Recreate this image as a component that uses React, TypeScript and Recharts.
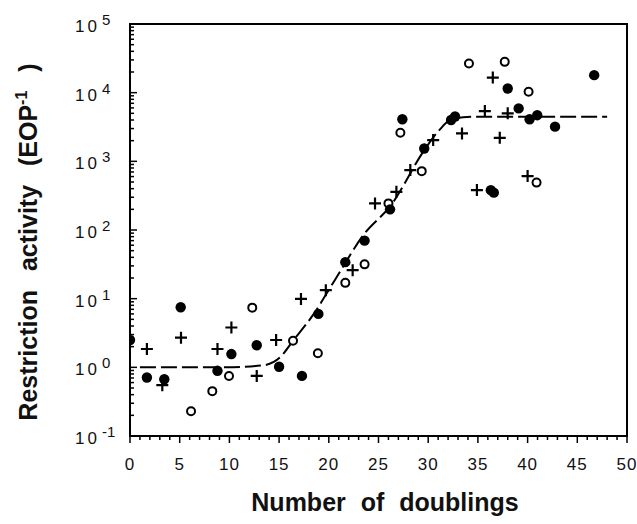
import React from 'react';
import { ScatterChart, Scatter, XAxis, YAxis, ReferenceArea } from 'recharts';

// Filled circles
const filledDoublings = [0, 1.7, 3.45, 5.1, 8.8, 10.2, 12.75, 15.0, 17.3, 18.95, 21.66, 23.6, 26.16, 27.4, 29.6, 32.3, 32.7, 36.3, 36.6, 38.0, 39.1, 40.2, 40.97, 42.76, 46.7];
const filledActivity = [2.5, 0.71, 0.67, 7.5, 0.89, 1.56, 2.1, 1.02, 0.75, 6.0, 34, 70, 200, 4100, 1540, 4000, 4500, 380, 350, 11500, 5900, 4100, 4700, 3200, 18000];

// Open circles
const openDoublings = [6.14, 8.28, 9.96, 12.3, 16.4, 18.9, 21.66, 23.6, 26.0, 27.2, 29.35, 34.1, 37.7, 40.1, 40.9];
const openActivity = [0.23, 0.45, 0.75, 7.4, 2.44, 1.6, 17, 31.6, 244, 2600, 720, 26600, 28100, 10300, 490];

// Plus markers
const plusDoublings = [1.7, 3.25, 5.13, 8.8, 10.2, 12.75, 14.7, 17.2, 19.7, 22.4, 24.65, 26.8, 28.2, 30.5, 33.4, 34.9, 35.7, 36.5, 37.2, 38.0, 40.0];
const plusActivity = [1.85, 0.55, 2.7, 1.85, 3.8, 0.75, 2.5, 9.9, 13.3, 26, 244, 360, 745, 2040, 2550, 381, 5400, 16600, 2200, 5000, 610];

// Fitted curve
const curveDoublings = [1, 9.7, 13.4, 15.1, 16.4, 18.4, 20.6, 23.6, 26.2, 29.6, 31.07, 32.5, 34.5, 48];
const curveActivity = [1, 1, 1.07, 1.4, 2.44, 5.75, 18.6, 89, 224, 1450, 2800, 4200, 4450, 4450];

const xTicks = [0,1,2,3,4,5,6,7,8,9,10,11,12,13,14,15,16,17,18,19,20,21,22,23,24,25,26,27,28,29,30,31,32,33,34,35,36,37,38,39,40,41,42,43,44,45,46,47,48,49,50];
const yDecades = [-1, 0, 1, 2, 3, 4];
const yMultipliers = [1, 2, 3, 4, 5, 6, 7, 8, 9];
const yTicks: number[] = [];
yDecades.forEach((d) => yMultipliers.forEach((k) => yTicks.push(k * Math.pow(10, d))));
yTicks.push(100000);

const toPoints = (xs: number[], ys: number[]) => xs.map((x, i) => ({ x, y: ys[i] }));
const filledData = toPoints(filledDoublings, filledActivity);
const openData = toPoints(openDoublings, openActivity);
const plusData = toPoints(plusDoublings, plusActivity);
const curveData = toPoints(curveDoublings, curveActivity);

const FONT = 'Liberation Sans, Arial, Helvetica, sans-serif';

const YTick = (props: any) => {
  const { x, y, payload } = props;
  const v = payload.value;
  const lg = Math.log10(v);
  const e = Math.round(lg);
  const major = Math.abs(lg - e) < 1e-6;
  return (
    <g>
      <line x1={x} x2={x + (major ? 7 : 4)} y1={y} y2={y} stroke="#000" strokeWidth={1.5} />
      {major && (
        <text fontFamily={FONT} fill="#111">
          <tspan x={x - 55} y={y + 8} textAnchor="start" fontSize={17} letterSpacing={3}>10</tspan>
          <tspan x={x - 28} y={y + 1} textAnchor="start" fontSize={15}>{String(e)}</tspan>
        </text>
      )}
    </g>
  );
};

const XTick = (props: any) => {
  const { x, y, payload } = props;
  const v = payload.value;
  const major = v % 5 === 0;
  return (
    <g>
      <line x1={x} x2={x} y1={y} y2={y + (major ? 7 : 4)} stroke="#000" strokeWidth={1.5} />
      {major && (
        <text x={x} y={y + 34} textAnchor="middle" fontFamily={FONT} fontSize={17} fill="#111" letterSpacing={1}>
          {String(v)}
        </text>
      )}
    </g>
  );
};

const YLabel = () => (
  <text transform="translate(37,242) rotate(-90)" textAnchor="middle" fontFamily={FONT} fontWeight="bold" fontSize={25} fill="#111" style={{ wordSpacing: '12px' }}>
    Restriction activity (EOP<tspan dy={-10} fontSize={16}>-1</tspan><tspan dy={10}> )</tspan>
  </text>
);

const XLabel = () => (
  <text x={385} y={511} textAnchor="middle" fontFamily={FONT} fontWeight="bold" fontSize={25} fill="#111" style={{ wordSpacing: '8px' }}>
    Number of doublings
  </text>
);

const FilledDot = (p: any) => <circle cx={p.cx} cy={p.cy} r={5.2} fill="#000" />;
const OpenDot = (p: any) => <circle cx={p.cx} cy={p.cy} r={4} fill="#fff" stroke="#000" strokeWidth={2} />;
const PlusDot = (p: any) => (
  <path d={`M${p.cx - 6},${p.cy}h12M${p.cx},${p.cy - 6}v12`} stroke="#000" strokeWidth={2.2} fill="none" />
);
const NoDot = () => <g />;

export default function App() {
  return (
    <div style={{ position: 'absolute', left: 0, top: 0, background: '#fff' }}>
      <ScatterChart width={637} height={524} margin={{ top: 24, right: 10, bottom: 0, left: 0 }}>
        <XAxis
          type="number"
          dataKey="x"
          domain={[0, 50]}
          ticks={xTicks}
          interval={0}
          tick={<XTick />}
          tickLine={false}
          tickSize={0}
          tickMargin={0}
          height={88}
          axisLine={{ stroke: '#000', strokeWidth: 2 }}
          allowDataOverflow
          label={<XLabel />}
        />
        <YAxis
          type="number"
          dataKey="y"
          scale="log"
          domain={[0.1, 100000]}
          ticks={yTicks}
          interval={0}
          tick={<YTick />}
          tickLine={false}
          tickSize={0}
          tickMargin={0}
          width={130}
          axisLine={{ stroke: '#000', strokeWidth: 2 }}
          allowDataOverflow
          label={<YLabel />}
        />
        <ReferenceArea x1={0} x2={50} y1={0.1} y2={100000} fill="none" stroke="#000" strokeWidth={2} ifOverflow="visible" />
        <Scatter
          data={curveData}
          shape={<NoDot />}
          line={{ stroke: '#000', strokeWidth: 2, strokeDasharray: '16 5' }}
          lineJointType="monotoneX"
          isAnimationActive={false}
        />
        <Scatter data={openData} shape={<OpenDot />} isAnimationActive={false} />
        <Scatter data={plusData} shape={<PlusDot />} isAnimationActive={false} />
        <Scatter data={filledData} shape={<FilledDot />} isAnimationActive={false} />
      </ScatterChart>
    </div>
  );
}
